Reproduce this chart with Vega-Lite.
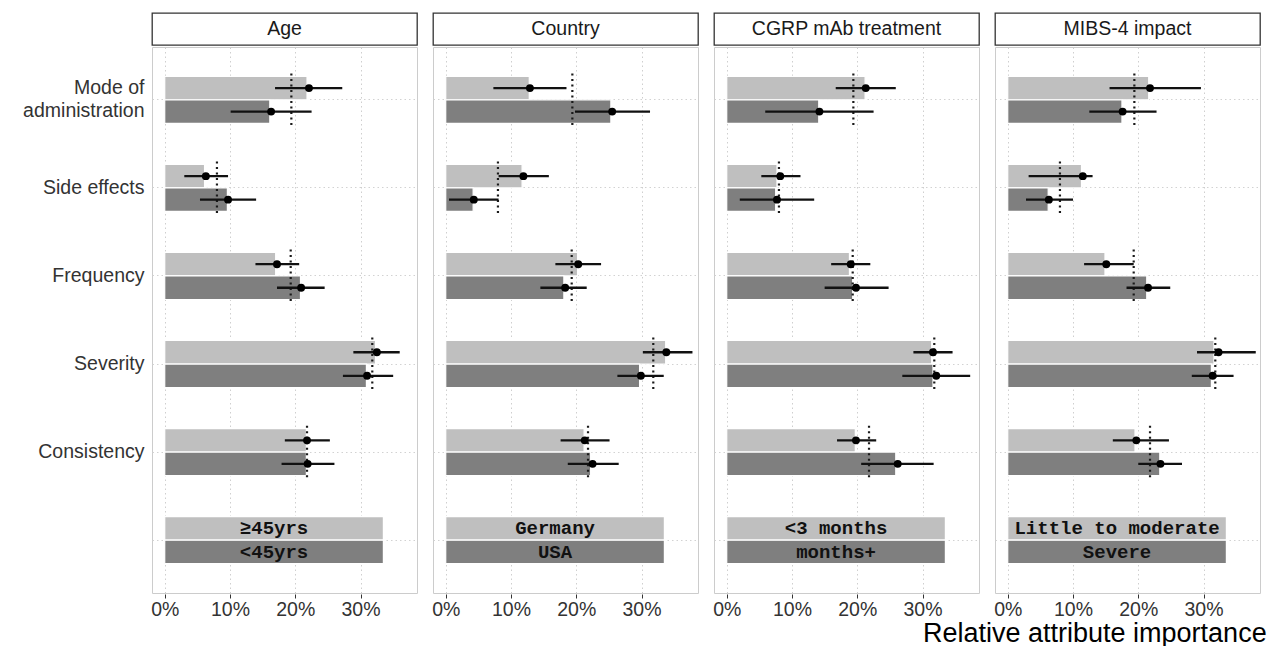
{
  "$schema": "https://vega.github.io/schema/vega-lite/v6.json",
  "padding": {"left": 5, "top": 12, "right": 6, "bottom": 0},
  "background": "white",
  "spacing": 0,
  "title": {"text": "Relative attribute importance", "orient": "bottom", "anchor": "end", "fontSize": 27, "font": "Liberation Sans", "fontWeight": "normal", "color": "#000000", "offset": 2, "dx": 6},
  "config": {
    "view": {"stroke": "#cccccc", "strokeWidth": 1},
    "axis": {"labelFont": "Liberation Sans", "labelFontSize": 19.5, "labelColor": "#333333", "titleFont": "Liberation Sans"}
  },
  "datasets": {
    "strips": [
      {"panel": "Age"}, {"panel": "Country"}, {"panel": "CGRP mAb treatment"}, {"panel": "MIBS-4 impact"}
    ],
    "main": [
      {"kind": "est", "panel": "Age", "attr": "Mode of administration", "group": "g1", "value": 21.8, "pt": 22.1, "lo": 16.9, "hi": 27.2},
      {"kind": "est", "panel": "Age", "attr": "Side effects", "group": "g1", "value": 6.1, "pt": 6.3, "lo": 3.0, "hi": 9.7},
      {"kind": "est", "panel": "Age", "attr": "Frequency", "group": "g1", "value": 17.0, "pt": 17.2, "lo": 13.9, "hi": 20.6},
      {"kind": "est", "panel": "Age", "attr": "Severity", "group": "g1", "value": 32.3, "pt": 32.5, "lo": 28.9, "hi": 36.0},
      {"kind": "est", "panel": "Age", "attr": "Consistency", "group": "g1", "value": 21.7, "pt": 21.8, "lo": 18.4, "hi": 25.3},
      {"kind": "est", "panel": "Country", "attr": "Mode of administration", "group": "g1", "value": 12.8, "pt": 12.9, "lo": 7.3, "hi": 18.5},
      {"kind": "est", "panel": "Country", "attr": "Side effects", "group": "g1", "value": 11.7, "pt": 11.9, "lo": 8.1, "hi": 15.8},
      {"kind": "est", "panel": "Country", "attr": "Frequency", "group": "g1", "value": 20.2, "pt": 20.3, "lo": 16.8, "hi": 23.8},
      {"kind": "est", "panel": "Country", "attr": "Severity", "group": "g1", "value": 33.7, "pt": 33.8, "lo": 30.2, "hi": 37.8},
      {"kind": "est", "panel": "Country", "attr": "Consistency", "group": "g1", "value": 21.2, "pt": 21.3, "lo": 17.6, "hi": 25.1},
      {"kind": "est", "panel": "CGRP mAb treatment", "attr": "Mode of administration", "group": "g1", "value": 21.2, "pt": 21.3, "lo": 16.7, "hi": 25.9},
      {"kind": "est", "panel": "CGRP mAb treatment", "attr": "Side effects", "group": "g1", "value": 7.7, "pt": 8.2, "lo": 5.3, "hi": 11.3},
      {"kind": "est", "panel": "CGRP mAb treatment", "attr": "Frequency", "group": "g1", "value": 18.8, "pt": 19.0, "lo": 16.0, "hi": 22.0},
      {"kind": "est", "panel": "CGRP mAb treatment", "attr": "Severity", "group": "g1", "value": 31.4, "pt": 31.6, "lo": 28.6, "hi": 34.6},
      {"kind": "est", "panel": "CGRP mAb treatment", "attr": "Consistency", "group": "g1", "value": 19.7, "pt": 19.8, "lo": 16.9, "hi": 22.9},
      {"kind": "est", "panel": "MIBS-4 impact", "attr": "Mode of administration", "group": "g1", "value": 21.6, "pt": 21.8, "lo": 15.6, "hi": 29.6},
      {"kind": "est", "panel": "MIBS-4 impact", "attr": "Side effects", "group": "g1", "value": 11.3, "pt": 11.5, "lo": 3.2, "hi": 13.0},
      {"kind": "est", "panel": "MIBS-4 impact", "attr": "Frequency", "group": "g1", "value": 14.9, "pt": 15.1, "lo": 11.7, "hi": 19.3},
      {"kind": "est", "panel": "MIBS-4 impact", "attr": "Severity", "group": "g1", "value": 31.6, "pt": 32.3, "lo": 29.0, "hi": 38.0},
      {"kind": "est", "panel": "MIBS-4 impact", "attr": "Consistency", "group": "g1", "value": 19.5, "pt": 19.7, "lo": 16.1, "hi": 24.7},
      {"kind": "legend", "panel": "Age", "attr": "legend", "group": "g1", "value": 33.5, "label": "≥45yrs"},
      {"kind": "legend", "panel": "Country", "attr": "legend", "group": "g1", "value": 33.5, "label": "Germany"},
      {"kind": "legend", "panel": "CGRP mAb treatment", "attr": "legend", "group": "g1", "value": 33.5, "label": "<3 months"},
      {"kind": "legend", "panel": "MIBS-4 impact", "attr": "legend", "group": "g1", "value": 33.5, "label": "Little to moderate"},
      {"kind": "est", "panel": "Age", "attr": "Mode of administration", "group": "g2", "value": 16.1, "pt": 16.3, "lo": 10.1, "hi": 22.5},
      {"kind": "est", "panel": "Age", "attr": "Side effects", "group": "g2", "value": 9.6, "pt": 9.7, "lo": 5.4, "hi": 14.0},
      {"kind": "est", "panel": "Age", "attr": "Frequency", "group": "g2", "value": 20.8, "pt": 20.9, "lo": 17.2, "hi": 24.5},
      {"kind": "est", "panel": "Age", "attr": "Severity", "group": "g2", "value": 30.9, "pt": 31.0, "lo": 27.3, "hi": 35.0},
      {"kind": "est", "panel": "Age", "attr": "Consistency", "group": "g2", "value": 21.7, "pt": 21.9, "lo": 17.9, "hi": 26.0},
      {"kind": "est", "panel": "Country", "attr": "Mode of administration", "group": "g2", "value": 25.3, "pt": 25.5, "lo": 19.8, "hi": 31.3},
      {"kind": "est", "panel": "Country", "attr": "Side effects", "group": "g2", "value": 4.2, "pt": 4.3, "lo": 0.5, "hi": 8.1},
      {"kind": "est", "panel": "Country", "attr": "Frequency", "group": "g2", "value": 18.1, "pt": 18.3, "lo": 14.5, "hi": 21.6},
      {"kind": "est", "panel": "Country", "attr": "Severity", "group": "g2", "value": 29.7, "pt": 29.9, "lo": 26.3, "hi": 33.4},
      {"kind": "est", "panel": "Country", "attr": "Consistency", "group": "g2", "value": 22.2, "pt": 22.5, "lo": 18.7, "hi": 26.5},
      {"kind": "est", "panel": "CGRP mAb treatment", "attr": "Mode of administration", "group": "g2", "value": 14.1, "pt": 14.2, "lo": 5.9, "hi": 22.5},
      {"kind": "est", "panel": "CGRP mAb treatment", "attr": "Side effects", "group": "g2", "value": 7.5, "pt": 7.7, "lo": 2.0, "hi": 13.4},
      {"kind": "est", "panel": "CGRP mAb treatment", "attr": "Frequency", "group": "g2", "value": 19.3, "pt": 19.8, "lo": 15.0, "hi": 24.8},
      {"kind": "est", "panel": "CGRP mAb treatment", "attr": "Severity", "group": "g2", "value": 31.6, "pt": 32.1, "lo": 26.9, "hi": 37.3},
      {"kind": "est", "panel": "CGRP mAb treatment", "attr": "Consistency", "group": "g2", "value": 25.9, "pt": 26.2, "lo": 20.6, "hi": 31.7},
      {"kind": "est", "panel": "MIBS-4 impact", "attr": "Mode of administration", "group": "g2", "value": 17.5, "pt": 17.6, "lo": 12.5, "hi": 22.8},
      {"kind": "est", "panel": "MIBS-4 impact", "attr": "Side effects", "group": "g2", "value": 6.2, "pt": 6.3, "lo": 2.8, "hi": 10.0},
      {"kind": "est", "panel": "MIBS-4 impact", "attr": "Frequency", "group": "g2", "value": 21.3, "pt": 21.5, "lo": 18.2, "hi": 24.9},
      {"kind": "est", "panel": "MIBS-4 impact", "attr": "Severity", "group": "g2", "value": 31.2, "pt": 31.4, "lo": 28.2, "hi": 34.6},
      {"kind": "est", "panel": "MIBS-4 impact", "attr": "Consistency", "group": "g2", "value": 23.3, "pt": 23.4, "lo": 20.0, "hi": 26.7},
      {"kind": "legend", "panel": "Age", "attr": "legend", "group": "g2", "value": 33.5, "label": "<45yrs"},
      {"kind": "legend", "panel": "Country", "attr": "legend", "group": "g2", "value": 33.5, "label": "USA"},
      {"kind": "legend", "panel": "CGRP mAb treatment", "attr": "legend", "group": "g2", "value": 33.5, "label": "months+"},
      {"kind": "legend", "panel": "MIBS-4 impact", "attr": "legend", "group": "g2", "value": 33.5, "label": "Severe"},
      {"kind": "overall", "panel": "Age", "attr": "Mode of administration", "value": 19.4},
      {"kind": "overall", "panel": "Age", "attr": "Side effects", "value": 8.0},
      {"kind": "overall", "panel": "Age", "attr": "Frequency", "value": 19.3},
      {"kind": "overall", "panel": "Age", "attr": "Severity", "value": 31.8},
      {"kind": "overall", "panel": "Age", "attr": "Consistency", "value": 21.8},
      {"kind": "overall", "panel": "Country", "attr": "Mode of administration", "value": 19.4},
      {"kind": "overall", "panel": "Country", "attr": "Side effects", "value": 8.0},
      {"kind": "overall", "panel": "Country", "attr": "Frequency", "value": 19.3},
      {"kind": "overall", "panel": "Country", "attr": "Severity", "value": 31.8},
      {"kind": "overall", "panel": "Country", "attr": "Consistency", "value": 21.8},
      {"kind": "overall", "panel": "CGRP mAb treatment", "attr": "Mode of administration", "value": 19.4},
      {"kind": "overall", "panel": "CGRP mAb treatment", "attr": "Side effects", "value": 8.0},
      {"kind": "overall", "panel": "CGRP mAb treatment", "attr": "Frequency", "value": 19.3},
      {"kind": "overall", "panel": "CGRP mAb treatment", "attr": "Severity", "value": 31.8},
      {"kind": "overall", "panel": "CGRP mAb treatment", "attr": "Consistency", "value": 21.8},
      {"kind": "overall", "panel": "MIBS-4 impact", "attr": "Mode of administration", "value": 19.4},
      {"kind": "overall", "panel": "MIBS-4 impact", "attr": "Side effects", "value": 8.0},
      {"kind": "overall", "panel": "MIBS-4 impact", "attr": "Frequency", "value": 19.3},
      {"kind": "overall", "panel": "MIBS-4 impact", "attr": "Severity", "value": 31.8},
      {"kind": "overall", "panel": "MIBS-4 impact", "attr": "Consistency", "value": 21.8}
    ]
  },
  "vconcat": [
    {
      "data": {"name": "strips"},
      "spacing": 14,
      "facet": {"column": {"field": "panel", "type": "nominal", "sort": ["Age", "Country", "CGRP mAb treatment", "MIBS-4 impact"], "header": null}},
      "spec": {
        "width": 265,
        "height": 32,
        "view": {"stroke": "#333333", "strokeWidth": 1.3, "fill": "white"},
        "mark": {"type": "text", "font": "Liberation Sans", "fontSize": 19.5, "color": "#1a1a1a", "baseline": "middle", "align": "center"},
        "encoding": {
          "y": {"datum": "s", "type": "nominal", "axis": {"labels": false, "ticks": false, "domain": false, "grid": false, "title": null, "minExtent": 146, "maxExtent": 146}},
          "text": {"field": "panel"}
        }
      }
    },
    {
      "data": {"name": "main"},
      "spacing": 14,
      "facet": {"column": {"field": "panel", "type": "nominal", "sort": ["Age", "Country", "CGRP mAb treatment", "MIBS-4 impact"], "header": null}},
      "spec": {
        "width": 265,
        "height": 546,
        "encoding": {
          "y": {
            "field": "attr", "type": "nominal",
            "sort": ["Mode of administration", "Side effects", "Frequency", "Severity", "Consistency", "legend"],
            "scale": {"domain": ["Mode of administration", "Side effects", "Frequency", "Severity", "Consistency", "legend"], "paddingInner": 0, "paddingOuter": 0.1},
            "axis": {
              "title": null, "domain": false, "ticks": false, "labelPadding": 7,
              "bandPosition": 0.5, "grid": true, "gridDash": [1.5, 3], "gridColor": "#d2d2d2", "gridWidth": 1,
              "minExtent": 146, "maxExtent": 146, "labelAlign": "right", "labelLineHeight": 23,
              "labelOffset": {"condition": {"test": "datum.value == 'Mode of administration'", "value": -12}, "value": 0},
              "labelExpr": "datum.value == 'Mode of administration' ? ['Mode of\u00a0\u00a0\u00a0\u00a0', 'administration'] : (datum.value == 'legend' ? '' : datum.value)"
            }
          }
        },
        "layer": [
          {
            "transform": [{"filter": "datum.kind == 'est' || datum.kind == 'legend'"}],
            "mark": {"type": "bar", "stroke": "white", "strokeWidth": 1.2},
            "encoding": {
              "yOffset": {"field": "group", "type": "nominal", "sort": ["g1", "g2"], "scale": {"domain": ["g1", "g2"], "paddingInner": 0, "paddingOuter": 0.87}},
              "x": {
                "field": "value", "type": "quantitative",
                "scale": {"domain": [-1.95, 38.65], "nice": false, "zero": false},
                "axis": {
                  "title": null, "domain": false, "values": [0, 5, 10, 15, 20, 25, 30, 35],
                  "labelExpr": "datum.value % 10 == 0 ? datum.value + '%' : ''",
                  "tickSize": 4, "tickColor": "#333333",
                  "tickOpacity": {"condition": {"test": "datum.value % 10 == 0", "value": 1}, "value": 0},
                  "labelPadding": 2, "labelFlush": false,
                  "grid": true, "gridDash": [1.5, 3], "gridWidth": 1,
                  "gridColor": {"condition": {"test": "datum.value % 10 == 0", "value": "#cfcfcf"}, "value": "#e6e6e6"}
                }
              },
              "x2": {"datum": 0},
              "color": {"field": "group", "type": "nominal", "scale": {"domain": ["g1", "g2"], "range": ["#bfbfbf", "#7f7f7f"]}, "legend": null}
            }
          },
          {
            "transform": [{"filter": "datum.kind == 'overall'"}],
            "mark": {"type": "rule", "color": "#1a1a1a", "strokeWidth": 2.2, "strokeDash": [2, 3.5]},
            "encoding": {
              "x": {"field": "value", "type": "quantitative"},
              "y": {"field": "attr", "type": "nominal", "bandPosition": 0.2},
              "y2": {"field": "attr", "bandPosition": 0.8}
            }
          },
          {
            "transform": [{"filter": "datum.kind == 'est'"}],
            "mark": {"type": "rule", "color": "#111111", "strokeWidth": 2.3},
            "encoding": {
              "yOffset": {"field": "group", "type": "nominal", "sort": ["g1", "g2"]},
              "x": {"field": "lo", "type": "quantitative"},
              "x2": {"field": "hi"}
            }
          },
          {
            "transform": [{"filter": "datum.kind == 'est'"}],
            "mark": {"type": "circle", "size": 62, "color": "#000000", "opacity": 1},
            "encoding": {
              "yOffset": {"field": "group", "type": "nominal", "sort": ["g1", "g2"]},
              "x": {"field": "pt", "type": "quantitative"}
            }
          },
          {
            "transform": [{"filter": "datum.kind == 'legend'"}, {"calculate": "datum.value / 2", "as": "mid"}],
            "mark": {"type": "text", "font": "Liberation Mono", "fontWeight": "bold", "fontSize": 19, "color": "#111111", "baseline": "middle", "align": "center"},
            "encoding": {
              "yOffset": {"field": "group", "type": "nominal", "sort": ["g1", "g2"]},
              "x": {"field": "mid", "type": "quantitative"},
              "text": {"field": "label"}
            }
          }
        ]
      }
    }
  ]
}
